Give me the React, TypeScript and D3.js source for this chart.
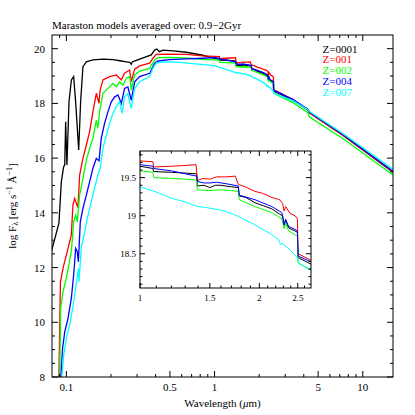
import React from "react";
import * as d3 from "d3";

// Maraston SEDs, log F_lambda vs wavelength (micron), averaged 0.9-2 Gyr
const legendLabels = ["Z=0001", "Z=001", "Z=002", "Z=004", "Z=007"];
const lineColors = ["#000000", "#ff0000", "#00ff00", "#0000ff", "#00ffff"];

const z0001: [number, number][] = [
  [0.0792, 12.58], [0.0891, 13.62], [0.0925, 15.14], [0.0959, 15.69], [0.0975, 15.75],
  [0.0989, 17.33], [0.1009, 15.75], [0.1042, 18.06], [0.1081, 18.86], [0.112, 18.98],
  [0.1155, 18.06], [0.1211, 16.3], [0.1248, 18.06], [0.1294, 19.34], [0.1364, 19.52],
  [0.151, 19.59], [0.1766, 19.62], [0.206, 19.6], [0.235, 19.55], [0.254, 19.52],
  [0.268, 19.5], [0.274, 19.43], [0.279, 19.52], [0.312, 19.62], [0.374, 19.77],
  [0.394, 19.95], [0.408, 19.99], [0.425, 19.89], [0.449, 19.95], [0.524, 19.92],
  [0.644, 19.87], [0.834, 19.76], [1.0, 19.65], [1.078, 19.62], [1.082, 19.58],
  [1.2, 19.57], [1.3, 19.56], [1.39, 19.55], [1.395, 19.39], [1.45, 19.4],
  [1.5, 19.37], [1.55, 19.4], [1.6, 19.4], [1.7, 19.38], [1.77, 19.37],
  [1.78, 19.26], [1.85, 19.24], [1.95, 19.17], [2.05, 19.13], [2.15, 19.09],
  [2.25, 19.02], [2.29, 19.0], [2.31, 18.87], [2.33, 18.95], [2.37, 18.84],
  [2.46, 18.8], [2.495, 18.78], [2.505, 18.45], [2.685, 18.37], [3.37, 18.12],
  [4.26, 17.76], [4.37, 17.66], [7.33, 16.84], [16, 15.48],
];

const z001: [number, number][] = [
  [0.089, 7.9], [0.0912, 11.48], [0.0949, 11.97], [0.1026, 12.7], [0.108, 13.19],
  [0.1108, 14.29], [0.1138, 14.53], [0.118, 14.29], [0.1198, 14.2], [0.1229, 15.38],
  [0.1294, 15.99], [0.1364, 16.48], [0.1436, 16.97], [0.1511, 17.7], [0.1593, 18.37],
  [0.166, 18.0], [0.169, 18.49], [0.1765, 18.86], [0.1959, 18.98], [0.2174, 19.04],
  [0.235, 18.86], [0.247, 19.1], [0.267, 19.22], [0.274, 18.8], [0.289, 19.25],
  [0.312, 19.37], [0.365, 19.47], [0.384, 19.65], [0.404, 19.79], [0.498, 19.8],
  [0.644, 19.79], [0.834, 19.74], [1.0, 19.72], [1.078, 19.71], [1.082, 19.64],
  [1.2, 19.65], [1.3, 19.66], [1.385, 19.67], [1.395, 19.46], [1.44, 19.49],
  [1.5, 19.48], [1.56, 19.51], [1.65, 19.51], [1.74, 19.52], [1.77, 19.41],
  [1.84, 19.38], [1.95, 19.32], [2.05, 19.29], [2.15, 19.24], [2.25, 19.21],
  [2.29, 19.16], [2.31, 19.06], [2.33, 19.12], [2.39, 19.03], [2.46, 19.0],
  [2.495, 18.96], [2.505, 18.5], [2.685, 18.42], [3.37, 18.14], [4.26, 17.78],
  [4.37, 17.66], [7.33, 16.85], [16, 15.5],
];

const z002: [number, number][] = [
  [0.0901, 7.9], [0.0915, 10.51], [0.0949, 11.12], [0.1, 11.61], [0.108, 12.58],
  [0.112, 13.67], [0.1155, 13.92], [0.1185, 13.67], [0.1229, 14.65], [0.1294, 15.26],
  [0.1364, 15.93], [0.1436, 16.36], [0.1511, 16.72], [0.1593, 17.39], [0.163, 17.09],
  [0.1677, 17.7], [0.1765, 18.37], [0.191, 18.55], [0.2062, 18.73], [0.2174, 18.61],
  [0.2288, 18.79], [0.2408, 18.67], [0.2539, 18.92], [0.268, 18.98], [0.274, 18.49],
  [0.289, 19.04], [0.312, 19.18], [0.365, 19.28], [0.394, 19.59], [0.415, 19.67],
  [0.498, 19.68], [0.644, 19.66], [0.834, 19.61], [1.0, 19.59], [1.078, 19.57],
  [1.082, 19.5], [1.2, 19.49], [1.3, 19.48], [1.39, 19.47], [1.395, 19.34],
  [1.5, 19.33], [1.6, 19.34], [1.7, 19.33], [1.77, 19.32], [1.78, 19.21],
  [1.95, 19.12], [2.15, 19.04], [2.28, 18.96], [2.31, 18.83], [2.33, 18.9],
  [2.37, 18.8], [2.46, 18.75], [2.495, 18.73], [2.505, 18.38], [2.685, 18.29],
  [3.37, 18.03], [4.26, 17.66], [4.37, 17.5], [7.33, 16.72], [16, 15.38],
];

const z004: [number, number][] = [
  [0.0915, 7.9], [0.0943, 9.05], [0.0975, 9.65], [0.1026, 10.14], [0.108, 10.87],
  [0.112, 11.73], [0.1155, 12.7], [0.1185, 12.58], [0.1205, 12.21], [0.1242, 13.67],
  [0.1294, 14.16], [0.1364, 14.65], [0.1436, 15.14], [0.1511, 15.63], [0.1593, 15.99],
  [0.166, 15.9], [0.172, 16.72], [0.181, 17.27], [0.191, 17.7], [0.201, 18.06],
  [0.212, 18.24], [0.223, 18.31], [0.235, 18.0], [0.247, 18.55], [0.26, 18.6],
  [0.274, 18.12], [0.289, 18.79], [0.312, 18.98], [0.365, 19.1], [0.394, 19.47],
  [0.415, 19.55], [0.498, 19.6], [0.644, 19.63], [0.834, 19.65], [1.0, 19.67],
  [1.078, 19.65], [1.082, 19.62], [1.2, 19.59], [1.3, 19.55], [1.39, 19.52],
  [1.395, 19.45], [1.45, 19.43], [1.5, 19.43], [1.56, 19.44], [1.65, 19.42],
  [1.77, 19.39], [1.78, 19.27], [1.95, 19.21], [2.15, 19.12], [2.28, 19.04],
  [2.31, 18.88], [2.33, 18.95], [2.37, 18.86], [2.46, 18.82], [2.495, 18.8],
  [2.505, 18.47], [2.685, 18.4], [3.37, 18.15], [4.26, 17.79], [4.37, 17.68],
  [7.33, 16.87], [16, 15.52],
];

const z007: [number, number][] = [
  [0.093, 7.9], [0.0959, 8.8], [0.101, 9.53], [0.1064, 10.02], [0.112, 10.75],
  [0.118, 11.61], [0.1205, 11.97], [0.1216, 11.48], [0.126, 12.7], [0.133, 13.31],
  [0.14, 13.92], [0.1473, 14.41], [0.155, 14.9], [0.163, 15.38], [0.169, 15.63],
  [0.1765, 16.36], [0.1861, 16.84], [0.1959, 17.27], [0.2062, 17.64], [0.2174, 17.88],
  [0.2288, 18.06], [0.238, 17.64], [0.247, 18.24], [0.26, 18.35], [0.274, 17.82],
  [0.289, 18.55], [0.312, 18.79], [0.365, 18.98], [0.384, 19.28], [0.404, 19.47],
  [0.45, 19.52], [0.585, 19.5], [0.834, 19.42], [1.0, 19.38], [1.1, 19.31],
  [1.2, 19.23], [1.3, 19.18], [1.4, 19.12], [1.5, 19.1], [1.61, 19.07],
  [1.7, 19.03], [1.77, 18.99], [1.95, 18.88], [2.15, 18.75], [2.24, 18.68],
  [2.26, 18.62], [2.28, 18.64], [2.39, 18.55], [2.49, 18.45], [2.52, 18.37],
  [2.685, 18.3], [3.37, 18.1], [4.26, 17.78], [4.37, 17.7], [7.33, 16.9], [16, 15.59],
];

const allSeries = [z0001, z001, z002, z004, z007];

const mainXLabels = [0.1, 0.5, 1, 5, 10];
const mainXMinor = [0.09, 0.2, 0.3, 0.4, 0.6, 0.7, 0.8, 0.9, 2, 3, 4, 6, 7, 8, 9];
const mainYLabels = [8, 10, 12, 14, 16, 18, 20];
const insetXLabels = [1, 1.5, 2, 2.5];
const insetYLabels = [18.5, 19, 19.5];

const FONT = "'Liberation Serif', 'Times New Roman', serif";

type Box = { l: number; r: number; t: number; b: number };

function Ticks({ box, xs, xMajor, xMinor, ys, yMajor, yMinor, big, small }: any) {
  const segs: string[] = [];
  xMajor.forEach((v: number) => {
    const x = xs(v);
    segs.push(`M${x},${box.b}v${-big}M${x},${box.t}v${big}`);
  });
  xMinor.forEach((v: number) => {
    const x = xs(v);
    segs.push(`M${x},${box.b}v${-small}M${x},${box.t}v${small}`);
  });
  yMajor.forEach((v: number) => {
    const y = ys(v);
    segs.push(`M${box.l},${y}h${big}M${box.r},${y}h${-big}`);
  });
  yMinor.forEach((v: number) => {
    const y = ys(v);
    segs.push(`M${box.l},${y}h${small}M${box.r},${y}h${-small}`);
  });
  return <path d={segs.join("")} stroke="#000" strokeWidth={1} fill="none" />;
}

export default function App() {
  const main: Box = { l: 52, r: 393, t: 35, b: 377 };
  const ins: Box = { l: 140, r: 311, t: 151, b: 288 };

  const x = d3.scaleLog().domain([0.08, 16]).range([main.l, main.r]);
  const y = d3.scaleLinear().domain([8, 20.5]).range([main.b, main.t]);
  const xi = d3.scaleLog().domain([1, 2.7]).range([ins.l, ins.r]);
  const yi = d3.scaleLinear().domain([18.05, 19.85]).range([ins.b, ins.t]);

  const lineMain = d3.line<[number, number]>().x((d) => x(d[0])).y((d) => y(d[1]));
  const lineInset = d3.line<[number, number]>().x((d) => xi(d[0])).y((d) => yi(d[1]));

  const mainYMinor = d3.range(8.5, 20.5, 0.5).filter((v) => Math.abs(v % 2) > 0.01);
  const insetXMinor = d3.range(1.1, 2.7, 0.1).filter((v) => Math.abs(v * 2 - Math.round(v * 2)) > 0.01);
  const insetYMinor = d3.range(18.1, 19.85, 0.1).filter((v) => Math.abs(v * 2 - Math.round(v * 2)) > 0.01);

  return (
    <svg width={415} height={415} style={{ position: "absolute", left: 0, top: 0, background: "#fff" }}
      fontFamily={FONT}>
      <defs>
        <clipPath id="clipMain">
          <rect x={main.l} y={main.t} width={main.r - main.l} height={main.b - main.t} />
        </clipPath>
        <clipPath id="clipInset">
          <rect x={ins.l} y={ins.t} width={ins.r - ins.l} height={ins.b - ins.t} />
        </clipPath>
      </defs>
      <rect width={415} height={415} fill="#fff" />

      <text x={main.l} y={29} fontSize={11}>Maraston models averaged over: 0.9−2Gyr</text>

      <g clipPath="url(#clipMain)">
        {allSeries.map((s, i) => (
          <path key={i} d={lineMain(s) || ""} fill="none" stroke={lineColors[i]} strokeWidth={1.3} />
        ))}
      </g>
      <rect x={main.l} y={main.t} width={main.r - main.l} height={main.b - main.t}
        fill="none" stroke="#000" strokeWidth={1} />
      <Ticks box={main} xs={x} ys={y} xMajor={mainXLabels} xMinor={mainXMinor}
        yMajor={mainYLabels} yMinor={mainYMinor} big={6} small={3} />
      {mainXLabels.map((v) => (
        <text key={v} x={x(v)} y={391} fontSize={11} textAnchor="middle">{v}</text>
      ))}
      {mainYLabels.map((v) => (
        <text key={v} x={45} y={y(v) + 4} fontSize={11} textAnchor="end">{v}</text>
      ))}

      {legendLabels.map((t, i) => (
        <text key={t} x={322.5} y={52.5 + i * 10.9} fontSize={11} fill={lineColors[i]}>{t}</text>
      ))}

      <text x={(main.l + main.r) / 2} y={407} fontSize={11} textAnchor="middle">
        Wavelength (<tspan fontStyle="italic">μ</tspan>m)
      </text>
      <text transform={`translate(16,${(main.t + main.b) / 2}) rotate(-90)`} fontSize={11} textAnchor="middle">
        log F<tspan fontSize={8} dy={2}>λ</tspan>
        <tspan dy={-2}> [erg s</tspan>
        <tspan fontSize={8} dy={-4}>−1</tspan>
        <tspan dy={4}> Å</tspan>
        <tspan fontSize={8} dy={-4}>−1</tspan>
        <tspan dy={4}>]</tspan>
      </text>

      {/* inset: near-IR zoom */}
      <rect x={ins.l} y={ins.t} width={ins.r - ins.l} height={ins.b - ins.t} fill="#fff" />
      <g clipPath="url(#clipInset)">
        {allSeries.map((s, i) => (
          <path key={i} d={lineInset(s) || ""} fill="none" stroke={lineColors[i]} strokeWidth={1} />
        ))}
      </g>
      <rect x={ins.l} y={ins.t} width={ins.r - ins.l} height={ins.b - ins.t}
        fill="none" stroke="#000" strokeWidth={1} />
      <Ticks box={ins} xs={xi} ys={yi} xMajor={insetXLabels} xMinor={insetXMinor}
        yMajor={insetYLabels} yMinor={insetYMinor} big={5} small={2.5} />
      {insetXLabels.map((v) => (
        <text key={v} x={xi(v)} y={301} fontSize={9} textAnchor="middle">{v}</text>
      ))}
      {insetYLabels.map((v) => (
        <text key={v} x={136} y={yi(v) + 3} fontSize={9} textAnchor="end">{v}</text>
      ))}
    </svg>
  );
}
